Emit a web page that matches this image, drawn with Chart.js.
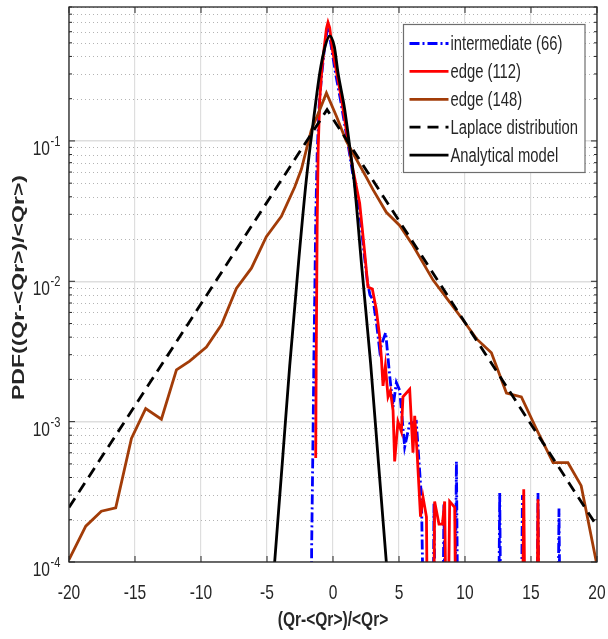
<!DOCTYPE html>
<html>
<head>
<meta charset="utf-8">
<script src="https://cdn.jsdelivr.net/npm/chart.js@4.4.1/dist/chart.umd.min.js"></script>
<style>
  html, body { margin: 0; padding: 0; background: #fff; }
  #wrap { width: 608px; height: 639px; position: relative; }
</style>
</head>
<body>
<div id="wrap"><canvas id="graphique"></canvas></div>
<script>
// tick labels
const xTicks = [-20, -15, -10, -5, 0, 5, 10, 15, 20];
const yDecades = [1e-4, 1e-3, 1e-2, 1e-1];
const yDecadeExp = ['-4', '-3', '-2', '-1'];
const xTitle = '(Qr-<Qr>)/<Qr>';
const yTitle = 'PDF((Qr-<Qr>)/<Qr>)';

// series (1e-5 = empty bin, falls below the axis)
const inter66Label = 'intermediate (66)';
const inter66X = [-1.66, -1.62, -1.5, -1.45, -1.3, -1.2, -1.05, -0.85, -0.6, -0.45, -0.38, -0.3, -0.1, 0.2, 0.55, 1.1, 1.5, 2.0, 2.35, 2.6, 2.8, 3.03, 3.3, 3.54, 3.79, 3.99, 4.3, 4.55, 4.8, 5.05, 5.43, 5.81, 6.31, 6.7, 6.95, 7.55, 7.65, 7.8, 8.3, 8.4, 8.55, 9.2, 9.35, 9.5, 12.5, 12.63, 12.76, 14.22, 14.35, 14.48, 15.4, 15.53, 15.66, 17.0, 17.12, 17.25];
const inter66Y = [1e-5, 1.2e-4, 1e-3, 2.7e-3, 0.03, 0.08, 0.18, 0.3, 0.5, 0.6, 0.62, 0.6, 0.45, 0.3, 0.2, 0.1, 0.058, 0.032, 0.016, 0.01, 8e-3, 7.4e-3, 5e-3, 3.2e-3, 3.8e-3, 4.3e-3, 2.1e-3, 1.27e-3, 1.9e-3, 1.67e-3, 6.6e-4, 9.7e-4, 1.0e-3, 2.9e-4, 1e-5, 1e-5, 2.6e-4, 1e-5, 1e-5, 2.6e-4, 1e-5, 1e-5, 5.2e-4, 1e-5, 1e-5, 3.1e-4, 1e-5, 1e-5, 3.0e-4, 1e-5, 1e-5, 3.1e-4, 1e-5, 1e-5, 2.4e-4, 1e-5];

const edge112Label = 'edge (112)';
const edge112X = [-1.31, -1.27, -1.2, -1.12, -1.0, -0.85, -0.68, -0.5, -0.38, -0.25, -0.05, 0.3, 0.64, 1.14, 1.52, 2.02, 2.4, 2.65, 2.98, 3.28, 3.54, 3.66, 3.79, 3.97, 4.17, 4.35, 4.55, 4.67, 4.92, 5.18, 5.3, 5.81, 6.06, 6.19, 6.36, 6.63, 6.82, 7.08, 7.2, 7.58, 7.7, 8.03, 8.29, 8.46, 8.64, 8.84, 9.22, 9.35, 14.3, 14.45, 14.6, 15.4, 15.53, 15.66];
const edge112Y = [5.5e-4, 3e-3, 0.025, 0.09, 0.2, 0.32, 0.45, 0.63, 0.70, 0.64, 0.45, 0.3, 0.2, 0.1, 0.062, 0.036, 0.016, 9.1e-3, 8.8e-3, 6.3e-3, 4.0e-3, 2.9e-3, 1.8e-3, 2.5e-3, 1.5e-3, 1.66e-3, 1.2e-3, 5.2e-4, 1.0e-3, 8.5e-4, 1.5e-3, 1.7e-3, 6.0e-4, 1.1e-3, 6.3e-4, 2.1e-4, 2.9e-4, 2.1e-4, 1e-5, 1e-5, 2.7e-4, 1.86e-4, 1.86e-4, 2.7e-4, 1e-5, 2.7e-4, 2.45e-4, 1e-5, 1e-5, 3.3e-4, 1e-5, 1e-5, 2.8e-4, 1e-5];

const edge148Label = 'edge (148)';
const edge148X = [-20, -18.73, -17.55, -16.46, -15.27, -14.19, -13.0, -11.86, -10.86, -9.59, -8.45, -7.32, -6.18, -5.05, -3.91, -2.9, -2.39, -1.64, -1.0, -0.5, 0.26, 1.0, 1.77, 2.53, 3.03, 4.04, 5.05, 6.06, 7.58, 8.84, 9.85, 10.86, 12.0, 13.14, 14.27, 15.4, 16.67, 17.8, 18.8, 19.95];
const edge148Y = [1.04e-4, 1.8e-4, 2.3e-4, 2.43e-4, 7.6e-4, 1.24e-3, 1.04e-3, 2.34e-3, 2.7e-3, 3.4e-3, 4.9e-3, 8.9e-3, 0.0124, 0.0208, 0.029, 0.047, 0.063, 0.12, 0.167, 0.22, 0.15, 0.1, 0.074, 0.055, 0.045, 0.031, 0.025, 0.018, 0.0102, 7.1e-3, 5.3e-3, 3.9e-3, 3.1e-3, 1.6e-3, 1.5e-3, 8.9e-4, 5.1e-4, 5.1e-4, 3.5e-4, 1e-4];

const laplaceLabel = 'Laplace distribution';
const laplaceX = [-20, -0.45, 20];
const laplaceY = [2.45e-4, 0.167, 1.8e-4];

const modelLabel = 'Analytical model';
const modelX = [-4.42, -3.8, -3.28, -2.6, -2.02, -1.44, -1.0, -0.6, -0.25, 0.1, 0.38, 0.89, 1.26, 1.59, 2.2, 2.85, 3.45, 4.04];
const modelY = [1e-4, 5.7e-4, 2.5e-3, 0.014, 0.053, 0.15, 0.306, 0.47, 0.56, 0.47, 0.306, 0.167, 0.092, 0.053, 0.012, 2.6e-3, 5e-4, 1e-4];

const SQUEEZE = 0.74;
const FONT = "'Liberation Sans', Arial, sans-serif";
const TXT = '#262626';

function pts(xs, ys) {
  return xs.map((x, i) => ({ x: x, y: ys[i] }));
}

function squeezed(ctx, text, x, y, font, align, baseline, rotate) {
  ctx.save();
  ctx.translate(x, y);
  ctx.scale(SQUEEZE, 1);
  if (rotate) ctx.rotate(-Math.PI / 2);
  ctx.font = font;
  ctx.textAlign = align;
  ctx.textBaseline = baseline;
  ctx.fillStyle = TXT;
  ctx.fillText(text, 0, 0);
  ctx.restore();
}

// dotted minor grid for the log axis
const minorGrid = {
  id: 'minorGrid',
  beforeDatasetsDraw(chart) {
    const { ctx, chartArea: a, scales: { y } } = chart;
    ctx.save();
    ctx.strokeStyle = '#b4b4b4';
    ctx.lineWidth = 1;
    ctx.setLineDash([1, 3]);
    yDecades.forEach(d => {
      for (let m = 2; m <= 9; m++) {
        const v = m * d;
        if (v > y.max) continue;
        const py = Math.round(y.getPixelForValue(v)) + 0.5;
        ctx.beginPath();
        ctx.moveTo(a.left, py);
        ctx.lineTo(a.right, py);
        ctx.stroke();
      }
    });
    ctx.restore();
  }
};

// box, inward ticks, labels and legend
const frame = {
  id: 'frame',
  afterDraw(chart) {
    const { ctx, chartArea: a, scales: { x, y } } = chart;
    ctx.save();
    ctx.strokeStyle = '#262626';
    ctx.lineWidth = 1.3;
    ctx.strokeRect(a.left, a.top, a.right - a.left, a.bottom - a.top);

    ctx.lineWidth = 1;
    ctx.beginPath();
    xTicks.forEach(v => {
      const px = x.getPixelForValue(v);
      ctx.moveTo(px, a.bottom); ctx.lineTo(px, a.bottom - 6);
      ctx.moveTo(px, a.top); ctx.lineTo(px, a.top + 6);
    });
    yDecades.forEach(d => {
      const py = y.getPixelForValue(d);
      ctx.moveTo(a.left, py); ctx.lineTo(a.left + 6, py);
      ctx.moveTo(a.right, py); ctx.lineTo(a.right - 6, py);
      for (let m = 2; m <= 9; m++) {
        if (m * d > y.max) continue;
        const pm = y.getPixelForValue(m * d);
        ctx.moveTo(a.left, pm); ctx.lineTo(a.left + 3, pm);
        ctx.moveTo(a.right, pm); ctx.lineTo(a.right - 3, pm);
      }
    });
    ctx.stroke();

    // tick labels
    xTicks.forEach(v => {
      squeezed(ctx, String(v), x.getPixelForValue(v), 599, '21px ' + FONT, 'center', 'alphabetic');
    });
    yDecades.forEach((d, i) => {
      const py = y.getPixelForValue(d);
      squeezed(ctx, '10', 50, py + 14, '21px ' + FONT, 'right', 'alphabetic');
      squeezed(ctx, yDecadeExp[i], 50.5, py + 5, '15px ' + FONT, 'left', 'alphabetic');
    });

    // axis titles
    squeezed(ctx, xTitle, (a.left + a.right) / 2, 626, 'bold 21px ' + FONT, 'center', 'alphabetic');
    squeezed(ctx, yTitle, 19, (a.top + a.bottom) / 2 + 3, 'bold 23px ' + FONT, 'center', 'middle', true);

    // legend
    const lx = 403.5, ly = 24.5, lw = 181.5, lh = 148;
    ctx.fillStyle = '#fff';
    ctx.fillRect(lx, ly, lw, lh);
    ctx.strokeStyle = '#6e6e6e';
    ctx.lineWidth = 1.2;
    ctx.strokeRect(lx, ly, lw, lh);
    chart.data.datasets.forEach((ds, i) => {
      const cy = ly + 19 + i * 27.9;
      ctx.save();
      ctx.strokeStyle = ds.borderColor;
      ctx.lineWidth = ds.borderWidth;
      ctx.setLineDash(ds.borderDash || []);
      ctx.beginPath();
      ctx.moveTo(lx + 6, cy);
      ctx.lineTo(lx + 45, cy);
      ctx.stroke();
      ctx.restore();
      squeezed(ctx, ds.label, lx + 47, cy + 1, '20px ' + FONT, 'left', 'middle');
    });
    ctx.restore();
  }
};

const ctx = document.getElementById('graphique').getContext('2d');
window.myChart = new Chart(ctx, {
  type: 'line',
  data: {
    datasets: [
      { label: inter66Label, data: pts(inter66X, inter66Y), borderColor: '#0000ff', borderWidth: 2.8, borderDash: [10, 3, 2, 3], order: 5 },
      { label: edge112Label, data: pts(edge112X, edge112Y), borderColor: '#ff0000', borderWidth: 2.8, order: 4 },
      { label: edge148Label, data: pts(edge148X, edge148Y), borderColor: '#a23c08', borderWidth: 2.8, order: 3 },
      { label: laplaceLabel, data: pts(laplaceX, laplaceY), borderColor: '#000000', borderWidth: 2.8, borderDash: [11, 7], order: 2 },
      { label: modelLabel, data: pts(modelX, modelY), borderColor: '#000000', borderWidth: 2.8, cubicInterpolationMode: 'monotone', order: 1 }
    ]
  },
  options: {
    responsive: true,
    maintainAspectRatio: false,
    animation: false,
    layout: { padding: { top: 7, right: 11, left: 0, bottom: 0 } },
    elements: { point: { radius: 0 }, line: { tension: 0 } },
    plugins: { legend: { display: false }, tooltip: { enabled: false } },
    scales: {
      x: {
        type: 'linear',
        min: -20,
        max: 20,
        ticks: { stepSize: 5, display: false },
        grid: { color: '#dedede', lineWidth: 1.2, drawTicks: false },
        border: { display: false },
        afterFit: s => { s.height = 77; }
      },
      y: {
        type: 'logarithmic',
        min: 1e-4,
        max: 0.9,
        ticks: { display: false },
        afterBuildTicks: s => { s.ticks = yDecades.map(v => ({ value: v })); },
        grid: { color: '#dedede', lineWidth: 1.5, drawTicks: false },
        border: { display: false },
        afterFit: s => { s.width = 69; }
      }
    }
  },
  plugins: [minorGrid, frame]
});
</script>
</body>
</html>
